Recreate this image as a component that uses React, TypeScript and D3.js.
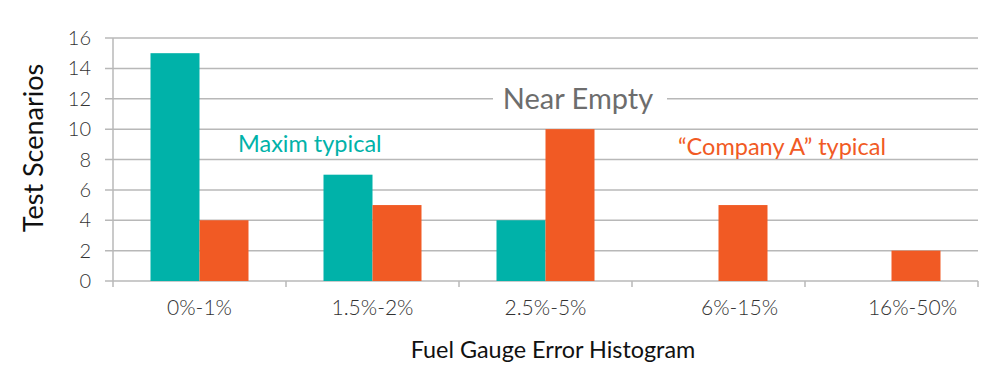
import React from "react";
import * as d3 from "d3";

const categories = ["0%-1%", "1.5%-2%", "2.5%-5%", "6%-15%", "16%-50%"];
const maximValues = [15, 7, 4, 0, 0];
const companyAValues = [4, 5, 10, 5, 2];
const yTicks = [0, 2, 4, 6, 8, 10, 12, 14, 16];

const W = 1000;
const H = 378;
const left = 113;
const right = 978;
const top = 38;
const bottom = 281;

export default function App() {
  const x = d3.scaleBand<string>().domain(categories).range([left, right]).paddingInner(0).paddingOuter(0);
  const y = d3.scaleLinear().domain([0, 16]).range([bottom, top]);
  const barW = 49;
  const teal = "#00b2a9";
  const orange = "#f15a24";
  const grid = "#b8b8b8";
  const font = "Lato, 'Open Sans', sans-serif";
  const boundaries = categories.map((c) => x(c)!).concat([right]);
  // label shifts as in the reference layout
  const labelShift = [0, 0, 0, 21, 21];

  return (
    <svg width={W} height={H} style={{ position: "absolute", left: 0, top: 0 }} fontFamily={font}>
      <rect width={W} height={H} fill="#fff" />
      {yTicks.map((t) => (
        <line key={t} x1={left - 8} x2={right} y1={y(t)} y2={y(t)} stroke={grid} strokeWidth={1.5} />
      ))}
      <line x1={left} x2={left} y1={top} y2={bottom + 6} stroke={grid} strokeWidth={1.5} />
      {boundaries.slice(1).map((b, i) => (
        <line key={i} x1={b} x2={b} y1={bottom} y2={bottom + 6} stroke={grid} strokeWidth={1.5} />
      ))}
      {categories.map((c, i) => {
        const cx = x(c)! + x.bandwidth() / 2;
        return (
          <g key={c}>
            {maximValues[i] > 0 && (
              <rect x={cx - barW} y={y(maximValues[i])} width={barW} height={bottom - y(maximValues[i])} fill={teal} />
            )}
            {companyAValues[i] > 0 && (
              <rect x={cx} y={y(companyAValues[i])} width={barW} height={bottom - y(companyAValues[i])} fill={orange} />
            )}
            <text x={cx + labelShift[i]} y={315} textAnchor="middle" fontSize={21} fontWeight={300} fill="#333">
              {c}
            </text>
          </g>
        );
      })}
      {yTicks.map((t) => (
        <text key={t} x={91} y={y(t) + 7} textAnchor="end" fontSize={20} fontWeight={300} fill="#333">
          {t}
        </text>
      ))}
      <rect x={493} y={y(12) - 16} width={174} height={32} fill="#fff" />
      <text x={578} y={y(12) + 10} textAnchor="middle" fontSize={29} fill="#6d6d6d">
        Near Empty
      </text>
      <text x={238} y={152} fontSize={23.5} fill={teal}>
        Maxim typical
      </text>
      <text x={678} y={155} fontSize={23.5} fill={orange}>
        “Company A” typical
      </text>
      <text transform={`translate(43,148) rotate(-90)`} textAnchor="middle" fontSize={27} fill="#111">
        Test Scenarios
      </text>
      <text x={553} y={358} textAnchor="middle" fontSize={23.4} fill="#111">
        Fuel Gauge Error Histogram
      </text>
    </svg>
  );
}
